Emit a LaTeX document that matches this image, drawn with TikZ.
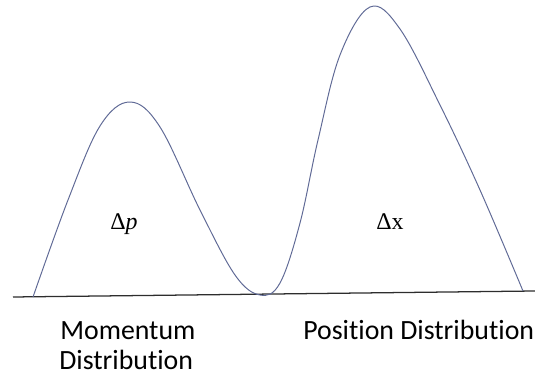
\documentclass[tikz,border=0pt]{standalone}
\usepackage{fontspec}
\setmainfont{Carlito}[Ligatures=NoCommon]
\newfontfamily\symfont{Liberation Serif}
\usetikzlibrary{positioning}
\definecolor{curveblue}{RGB}{96,106,150}
\definecolor{axisgray}{RGB}{45,45,45}
\tikzset{wave/.style={draw=curveblue,line width=0.7pt},axis/.style={draw=axisgray,line width=0.9pt},caption/.style={font=\fontsize{19.8}{21}\selectfont,inner sep=0pt},spread/.style={font=\symfont\fontsize{17}{19}\selectfont,inner sep=0pt}}

\begin{document}
\begin{tikzpicture}[x=0.025cm,y=-0.025cm]
\useasboundingbox (0,0) rectangle (535,379);
\coordinate (axl) at (13,297);\coordinate (axr) at (535,291);
\draw[axis](axl)--(axr);
% momentum bump, dip at the axis, position bump
\draw[wave] plot[smooth,tension=0.6] coordinates {(33,297) (68,200) (100,126) (130,102) (160,127) (200,210) (235,275) (260,295) (280,283) (300,223) (318,140) (340,55) (370,7) (400,29) (440,105) (480,190) (523,291)};
\node[spread,anchor=base](dp) at(124,230){Δ\textit{p}};
\node[spread,anchor=base](dx) at(390,230){Δx};
\node[caption,anchor=base west](mom) at(60,340){Momentum};
\node[caption,anchor=base west](dist) at(59,370){Distribution};
\node[caption,anchor=base west](pos) at(303,340){Position Distribution};
\end{tikzpicture}
\end{document}
